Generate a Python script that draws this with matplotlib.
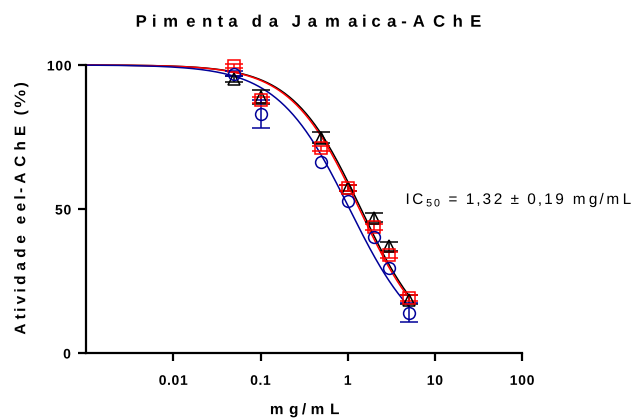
import numpy as np
import matplotlib
matplotlib.use("Agg")
import matplotlib.pyplot as plt
from matplotlib.patheffects import AbstractPathEffect
from matplotlib.path import Path
from matplotlib.transforms import IdentityTransform

plt.rcParams['font.family'] = ['Liberation Sans', 'DejaVu Sans']
plt.rcParams['mathtext.fontset'] = 'custom'
plt.rcParams['mathtext.rm'] = 'Liberation Sans'
plt.rcParams['mathtext.it'] = 'Liberation Sans'

# Concentrations (mg/mL)
conc = [0.05, 0.1, 0.5, 1, 2, 3, 5]

# Enzyme activity (%) per replicate series, with SD (nan = bar hidden by marker)
act_black = [95.2, 88.8, 74.8, 57.2, 47.0, 37.0, 18.5]
sd_black = [1.0, 2.5, 1.8, 1.0, 1.5, 1.5, 1.5]
act_red = [99.6, 87.8, 71.0, 57.2, 43.8, 34.0, 19.0]
sd_red = [0.8, 1.0, 1.0, 1.0, 1.0, 1.0, 1.0]
act_blue = [97.0, 83.0, 66.2, 52.8, 40.3, 29.5, 14.0]
sd_blue = [0.8, 5.0, np.nan, np.nan, np.nan, np.nan, 3.2]

# Fitted dose-response parameters: (IC50, Hill slope)
fit_black = (1.42, 1.10)
fit_red = (1.36, 1.10)
fit_blue = (1.05, 1.05)

xtick_vals = [0.01, 0.1, 1, 10, 100]
xtick_labels = ['0.01', '0.1', '1', '10', '100']
ytick_vals = [0, 50, 100]

ic50_label = "IC$_{50}$ = 1,32 \u00b1 0,19 mg/mL"


class Tracking(AbstractPathEffect):
    """Widen letter spacing by pushing glyph contours apart along the text direction."""

    def __init__(self, k, anchor='center', angle=0.0):
        super().__init__()
        self.k = k
        self.anchor = anchor
        a = np.deg2rad(angle)
        self.d = np.array([np.cos(a), np.sin(a)])

    def draw_path(self, renderer, gc, tpath, affine, rgbFace=None):
        verts = affine.transform(tpath.vertices)
        codes = tpath.codes
        if codes is None or len(codes) == 0:
            renderer.draw_path(gc, tpath, affine, rgbFace)
            return
        valid = codes != Path.CLOSEPOLY
        proj = verts @ self.d
        lo, hi = proj[valid].min(), proj[valid].max()
        ref = lo if self.anchor == 'left' else 0.5 * (lo + hi)
        starts = np.where(codes == Path.MOVETO)[0]
        ends = list(starts[1:]) + [len(codes)]
        new = verts.copy()
        for s, e in zip(starts, ends):
            p = proj[s:e][valid[s:e]]
            if len(p) == 0:
                continue
            c = 0.5 * (p.min() + p.max())
            new[s:e] += self.k * (c - ref) * self.d
        renderer.draw_path(gc, Path(new, codes), IdentityTransform(), rgbFace)


fig = plt.figure(figsize=(6.43, 4.19), dpi=100)
ax = fig.add_axes([0.134, 0.1575, 0.678, 0.6875])

xfit = np.logspace(-3, np.log10(5), 300)

series = [
    (act_black, sd_black, fit_black, 'black', '^'),
    (act_red, sd_red, fit_red, '#ff0000', 's'),
    (act_blue, sd_blue, fit_blue, '#000099', 'o'),
]
for act, sd, (ic50, hill), col, mk in series:
    yfit = 100.0 / (1.0 + (xfit / ic50) ** hill)
    ax.plot(xfit, yfit, color=col, lw=1.1, clip_on=False, zorder=2)

for act, sd, fit, col, mk in series:
    ax.errorbar(conc, act, yerr=sd, fmt=mk, color=col, mfc='none', mec=col,
                ms=8.5, mew=1.1, elinewidth=1.1, capsize=6.5, capthick=1.1,
                clip_on=False, zorder=3)

ax.set_xscale('log')
ax.set_xlim(0.001, 100)
ax.set_ylim(0, 100)
ax.set_xticks(xtick_vals)
ax.set_xticklabels(xtick_labels)
ax.minorticks_off()
ax.set_yticks(ytick_vals)

for s in ['top', 'right']:
    ax.spines[s].set_visible(False)
for s in ['left', 'bottom']:
    ax.spines[s].set_linewidth(1.6)
ax.tick_params(axis='both', width=1.6, length=6, labelsize=10, pad=5)
ax.tick_params(axis='x', pad=9)
for lab in ax.get_xticklabels() + ax.get_yticklabels():
    lab.set_fontweight('bold')
    lab.set_path_effects([Tracking(0.1)])

xl = ax.set_xlabel('mg/mL', fontsize=11, fontweight='bold', labelpad=11)
xl.set_path_effects([Tracking(0.5)])
yl = ax.set_ylabel('Atividade eel-AChE (%)', fontsize=11, fontweight='bold',
                   labelpad=14)
yl.set_path_effects([Tracking(0.52, angle=90)])

ttl = fig.text(0.479, 0.947, 'Pimenta da Jamaica-AChE', fontsize=12,
               fontweight='bold', ha='center', va='center')
ttl.set_path_effects([Tracking(0.68)])

ic = ax.text(0.732, 0.531, ic50_label, transform=ax.transAxes, fontsize=11,
             ha='left', va='center')
ic.set_path_effects([Tracking(0.32, anchor='left')])

fig.savefig('out.png', dpi=100)
